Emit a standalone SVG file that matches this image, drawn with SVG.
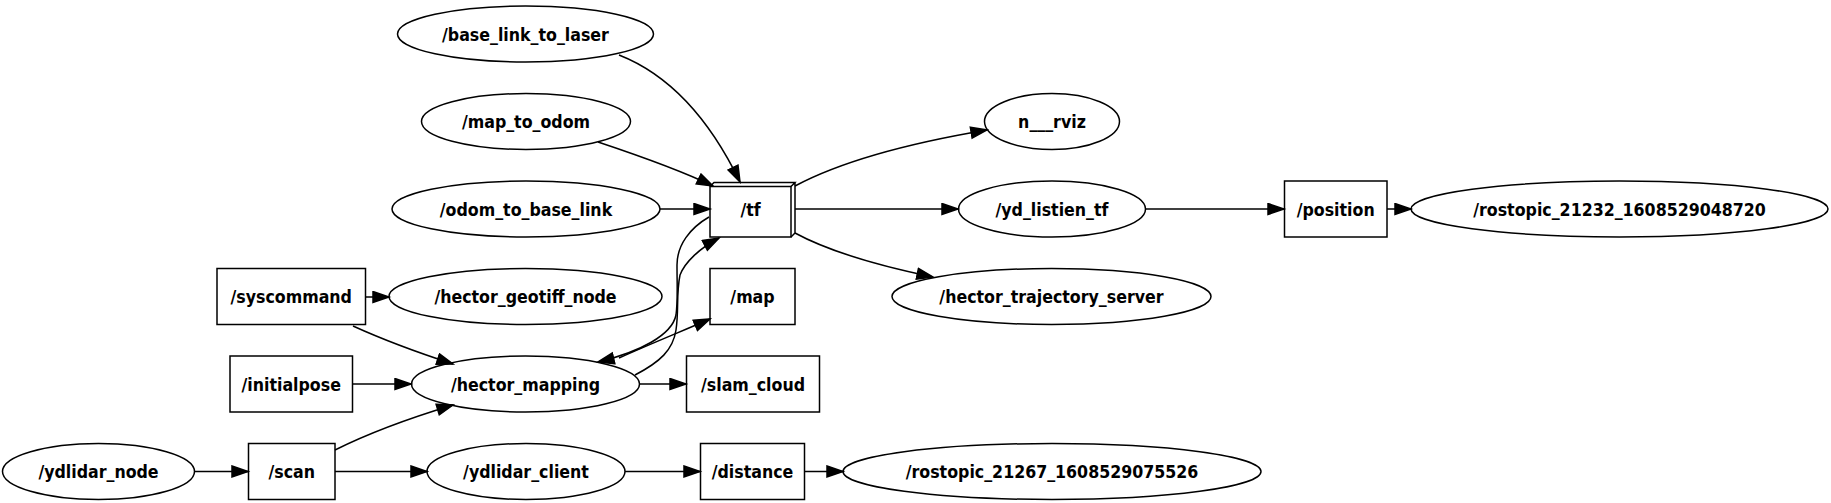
<svg xmlns="http://www.w3.org/2000/svg" width="1831" height="503" viewBox="0 0 1831 503">
<style>
.n{fill:none;stroke:#000;stroke-width:1.5}
.e{fill:none;stroke:#000;stroke-width:1.5;marker-end:url(#ah)}
text{font-family:"DejaVu Sans Condensed","DejaVu Sans",sans-serif;font-stretch:condensed;font-weight:bold;font-size:17.6px;text-anchor:middle;fill:#000}
</style>
<defs>
<marker id="ah" markerUnits="userSpaceOnUse" markerWidth="20" markerHeight="16" refX="17" refY="6.5" orient="auto">
<path d="M1,1 L17,6.5 L1,12 Z" fill="#000" stroke="#000" stroke-width="1.5"/>
</marker>
</defs>
<rect x="0" y="0" width="1831" height="503" fill="#fff"/>
<g id="connectors">
<path class="e" d="M619,55 C670,75 710,120 740,182"/>
<path class="e" d="M598,142 C640,156 680,170 713,186"/>
<path class="e" d="M660,209 L710,209"/>
<path class="e" d="M795,186 C840,162 910,143 987,130"/>
<path class="e" d="M795,209 L958,209"/>
<path class="e" d="M795,233 C830,252 880,266 933,277"/>
<path class="e" d="M1146,209 L1284,209"/>
<path class="e" d="M1387,209 L1411,209"/>
<path class="e" d="M366,297 L389,297"/>
<path class="e" d="M353,326 C375,336 410,350 453,364"/>
<path class="e" d="M353,384 L411,384"/>
<path class="e" d="M640,384 L686,384"/>
<path class="e" d="M335,450 C365,435 410,418 453,405"/>
<path class="e" d="M195,471.5 L248,471.5"/>
<path class="e" d="M335,471.5 L427,471.5"/>
<path class="e" d="M625,471.5 L700,471.5"/>
<path class="e" d="M804.5,471.5 L843,471.5"/>
<path class="e" d="M619,358 C650,344 680,332 710,319"/>
<path class="e" d="M709,217 C690,228 677,245 677,265 C677,285 678,300 676,315 C672,335 640,352 598,362"/>
<path class="e" d="M635,375 C660,362 673,350 676,330 C679,310 676,295 680,275 C685,262 700,248 719,238"/>
</g>
<g id="base_link_to_laser"><ellipse class="n" cx="525.5" cy="34" rx="128" ry="28"/><text x="525.5" y="40.5">/base_link_to_laser</text></g>
<g id="map_to_odom"><ellipse class="n" cx="526" cy="121.5" rx="104.5" ry="28"/><text x="526" y="128">/map_to_odom</text></g>
<g id="odom_to_base_link"><ellipse class="n" cx="526" cy="209" rx="134" ry="28"/><text x="526" y="215.5">/odom_to_base_link</text></g>
<g id="tf"><rect class="n" x="710" y="186.5" width="81" height="50.5"/><path class="n" d="M710,186.5 L714,182.5 L795,182.5 L791,186.5 M795,182.5 L795,233 L791,237"/><text x="750.5" y="215.5">/tf</text></g>
<g id="n___rviz"><ellipse class="n" cx="1052" cy="121.5" rx="67.5" ry="28"/><text x="1052" y="128">n___rviz</text></g>
<g id="yd_listien_tf"><ellipse class="n" cx="1052" cy="209" rx="93.5" ry="28"/><text x="1052" y="215.5">/yd_listien_tf</text></g>
<g id="hector_trajectory_server"><ellipse class="n" cx="1051.5" cy="296.5" rx="159.5" ry="28"/><text x="1051.5" y="303">/hector_trajectory_server</text></g>
<g id="position"><rect class="n" x="1284.5" y="181" width="102.5" height="56"/><text x="1335.7" y="215.5">/position</text></g>
<g id="rostopic_21232"><ellipse class="n" cx="1619.5" cy="209" rx="208.5" ry="28"/><text x="1619.5" y="215.5">/rostopic_21232_1608529048720</text></g>
<g id="syscommand"><rect class="n" x="217" y="268.5" width="148.5" height="56"/><text x="291.2" y="303">/syscommand</text></g>
<g id="hector_geotiff_node"><ellipse class="n" cx="525.5" cy="296.5" rx="136.5" ry="28"/><text x="525.5" y="303">/hector_geotiff_node</text></g>
<g id="map"><rect class="n" x="710" y="268.5" width="85" height="56"/><text x="752.5" y="303">/map</text></g>
<g id="initialpose"><rect class="n" x="230" y="356" width="122.5" height="56"/><text x="291.2" y="390.5">/initialpose</text></g>
<g id="hector_mapping"><ellipse class="n" cx="525.5" cy="384" rx="114" ry="28"/><text x="525.5" y="390.5">/hector_mapping</text></g>
<g id="slam_cloud"><rect class="n" x="686.5" y="356" width="133" height="56"/><text x="753" y="390.5">/slam_cloud</text></g>
<g id="ydlidar_node"><ellipse class="n" cx="98.5" cy="471.5" rx="96" ry="28"/><text x="98.5" y="478">/ydlidar_node</text></g>
<g id="scan"><rect class="n" x="248.5" y="443.5" width="86.5" height="56"/><text x="291.7" y="478">/scan</text></g>
<g id="ydlidar_client"><ellipse class="n" cx="526" cy="471.5" rx="99" ry="28"/><text x="526" y="478">/ydlidar_client</text></g>
<g id="distance"><rect class="n" x="700.5" y="443.5" width="104" height="56"/><text x="752.5" y="478">/distance</text></g>
<g id="rostopic_21267"><ellipse class="n" cx="1052" cy="471.5" rx="209" ry="28"/><text x="1052" y="478">/rostopic_21267_1608529075526</text></g>
</svg>
